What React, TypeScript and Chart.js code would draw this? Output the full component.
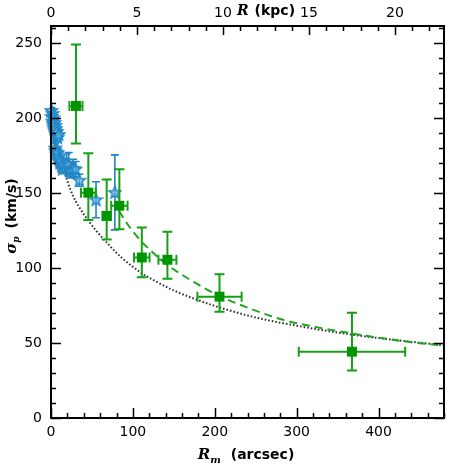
import React, { useEffect, useRef } from 'react';
import { Chart, registerables } from 'chart.js';
Chart.register(...registerables);

// Blue stars (inner data)
const starX = [0.5, 1.0, 1.5, 2.0, 2.5, 3.0, 3.5, 4.0, 4.5, 5.0, 5.5, 6.0, 6.5, 7.0, 8.0, 9.5,
  5, 6, 7, 8, 9, 10, 11, 12, 13, 14, 15, 17,
  19, 21.6, 24, 27, 30, 34.6, 55, 78];
const starY = [205, 201, 198, 203, 196, 200, 194, 197, 192, 195, 190, 193, 188, 191, 187, 189,
  180, 178, 176, 177, 174, 172, 170, 171, 168, 166, 169, 167,
  170, 169, 165, 166.5, 166, 158.5, 145.5, 150.4];
const starErr = [2, 2, 2, 3, 2, 3, 2, 3, 2, 3, 2, 3, 2, 3, 3, 3,
  3, 3, 3, 3, 3, 3, 3, 3, 3, 3, 3, 4,
  6, 8, 5, 6, 5, 4, 12, 25];

// Green squares
const sqX = [30.5, 45.6, 68, 83.5, 110.9, 142.2, 205.8, 367.6];
const sqY = [208, 150.2, 134.7, 141.5, 107, 105.5, 80.9, 44.2];
const sqYLow = [183, 132, 119, 125.8, 93.8, 92.9, 70.9, 31.6];
const sqYHigh = [249, 176.5, 159, 165.8, 127, 124.2, 95.8, 70.2];
const sqXErr = [8, 9, 5, 10, 9.5, 11, 27, 65];

// Dotted model curve
const dotX = [0, 5, 10, 15, 20, 27, 35, 45, 55, 68, 85, 111, 130, 150, 180, 207, 250, 300, 368, 420, 480];
const dotY = [202, 190, 178, 167, 158, 148, 140, 132, 125, 117, 107.5, 96.5, 90.5, 85, 78.5, 73.5, 67, 61.5, 55.5, 52, 48.5];

// Dashed model curve
const dashX = [83, 95, 109, 125, 141, 160, 178, 207, 231, 280, 320, 368, 410, 443, 480];
const dashY = [138, 128, 118.5, 110, 102.5, 95.5, 89.5, 81, 75.5, 66, 61, 56.3, 52.8, 50.3, 48.3];

// Tick labels
const xTickVals = [0, 100, 200, 300, 400];
const yTickVals = [0, 50, 100, 150, 200, 250];
const topTickVals = [0, 5, 10, 15, 20];

const GREEN = '#15a015';
const BLUE = '#1f86c6';

function drawRich(ctx: CanvasRenderingContext2D, parts: any[], cx: number, cy: number, angle: number) {
  ctx.save();
  ctx.translate(cx, cy);
  ctx.rotate(angle);
  ctx.textBaseline = 'middle';
  ctx.textAlign = 'left';
  ctx.fillStyle = '#000';
  const widths = parts.map((p) => { ctx.font = p.font; return ctx.measureText(p.text).width + (p.gap || 0); });
  const total = widths.reduce((a, b) => a + b, 0);
  let x = -total / 2;
  parts.forEach((p, i) => {
    ctx.font = p.font;
    ctx.fillText(p.text, x, p.dy || 0);
    x += widths[i];
  });
  ctx.restore();
}

const errPlugin = {
  id: 'errbars',
  beforeDatasetDraw(chart: any, args: any) {
    const ctx = chart.ctx;
    const xs = chart.scales.x, ys = chart.scales.y;
    const ca = chart.chartArea;
    ctx.save();
    ctx.beginPath();
    ctx.rect(ca.left, ca.top, ca.right - ca.left, ca.bottom - ca.top);
    ctx.clip();
    if (args.index === 0) {
      ctx.strokeStyle = GREEN;
      ctx.lineWidth = 2;
      const cap = 5;
      for (let i = 0; i < sqX.length; i++) {
        const px = xs.getPixelForValue(sqX[i]);
        const py = ys.getPixelForValue(sqY[i]);
        const yl = ys.getPixelForValue(sqYLow[i]);
        const yh = ys.getPixelForValue(sqYHigh[i]);
        const xl = xs.getPixelForValue(sqX[i] - sqXErr[i]);
        const xh = xs.getPixelForValue(sqX[i] + sqXErr[i]);
        ctx.beginPath();
        ctx.moveTo(px, yl); ctx.lineTo(px, yh);
        ctx.moveTo(px - cap, yl); ctx.lineTo(px + cap, yl);
        ctx.moveTo(px - cap, yh); ctx.lineTo(px + cap, yh);
        ctx.moveTo(xl, py); ctx.lineTo(xh, py);
        ctx.moveTo(xl, py - cap); ctx.lineTo(xl, py + cap);
        ctx.moveTo(xh, py - cap); ctx.lineTo(xh, py + cap);
        ctx.stroke();
      }
    } else if (args.index === 1) {
      ctx.strokeStyle = BLUE;
      ctx.lineWidth = 1.6;
      const cap = 4;
      for (let i = 0; i < starX.length; i++) {
        const px = xs.getPixelForValue(starX[i]);
        const yl = ys.getPixelForValue(starY[i] - starErr[i]);
        const yh = ys.getPixelForValue(starY[i] + starErr[i]);
        ctx.beginPath();
        ctx.moveTo(px, yl); ctx.lineTo(px, yh);
        ctx.moveTo(px - cap, yl); ctx.lineTo(px + cap, yl);
        ctx.moveTo(px - cap, yh); ctx.lineTo(px + cap, yh);
        ctx.stroke();
      }
    }
    ctx.restore();
  },
};

const framePlugin = {
  id: 'frame',
  afterDraw(chart: any) {
    const ctx = chart.ctx;
    const ca = chart.chartArea;
    const xs = chart.scales.x, ys = chart.scales.y, x2 = chart.scales.x2;
    ctx.save();
    ctx.strokeStyle = '#000';
    ctx.lineWidth = 1.5;
    ctx.beginPath();
    for (let v = 0; v <= 480; v += 20) {
      const p = Math.round(xs.getPixelForValue(v)) + 0.5;
      const len = v % 100 === 0 ? 10 : 5;
      ctx.moveTo(p, ca.bottom); ctx.lineTo(p, ca.bottom - len);
    }
    for (let v = 0; v <= 22; v += 1) {
      const p = Math.round(x2.getPixelForValue(v)) + 0.5;
      const len = v % 5 === 0 ? 9 : 5;
      ctx.moveTo(p, ca.top); ctx.lineTo(p, ca.top + len);
    }
    for (let v = 0; v <= 260; v += 10) {
      const p = Math.round(ys.getPixelForValue(v)) + 0.5;
      const len = v % 50 === 0 ? 10 : 5;
      ctx.moveTo(ca.left, p); ctx.lineTo(ca.left + len, p);
      ctx.moveTo(ca.right, p); ctx.lineTo(ca.right - len, p);
    }
    ctx.stroke();
    ctx.lineWidth = 2;
    ctx.strokeRect(ca.left, ca.top, ca.right - ca.left, ca.bottom - ca.top);
    ctx.restore();

    // axis titles
    drawRich(ctx, [
      { text: 'R', font: 'italic bold 15px "DejaVu Serif"' },
      { text: 'm', font: 'italic bold 10px "DejaVu Serif"', dy: 5, gap: 10 },
      { text: '(arcsec)', font: 'bold 14px "DejaVu Sans"' },
    ], 246, 455, 0);
    drawRich(ctx, [
      { text: 'R', font: 'italic bold 14px "DejaVu Serif"', gap: 6 },
      { text: '(kpc)', font: 'bold 14px "DejaVu Sans"' },
    ], 266, 11, 0);
    drawRich(ctx, [
      { text: 'σ', font: 'italic bold 15px "DejaVu Serif"' },
      { text: 'p', font: 'italic bold 9px "DejaVu Serif"', dy: 5, gap: 8 },
      { text: '(km/s)', font: 'bold 14px "DejaVu Sans"' },
    ], 12, 216, -Math.PI / 2);
  },
};

export default function App() {
  const ref = useRef<HTMLCanvasElement | null>(null);
  useEffect(() => {
    if (!ref.current) return;
    // star point image
    const sc = document.createElement('canvas');
    sc.width = 15; sc.height = 15;
    const sctx = sc.getContext('2d')!;
    sctx.beginPath();
    for (let k = 0; k < 10; k++) {
      const r = k % 2 === 0 ? 6.2 : 2.7;
      const a = -Math.PI / 2 + (k * Math.PI) / 5;
      const px = 7.5 + r * Math.cos(a), py = 7.9 + r * Math.sin(a);
      if (k === 0) sctx.moveTo(px, py); else sctx.lineTo(px, py);
    }
    sctx.closePath();
    sctx.fillStyle = 'rgba(120,180,225,0.6)';
    sctx.fill();
    sctx.strokeStyle = BLUE;
    sctx.lineWidth = 1.6;
    sctx.stroke();

    const font = { family: '"DejaVu Sans"', size: 14 };
    const chart = new Chart(ref.current, {
      type: 'scatter',
      data: {
        datasets: [
          {
            label: 'squares',
            data: sqX.map((x, i) => ({ x, y: sqY[i] })),
            pointStyle: 'rect',
            pointRadius: 7,
            backgroundColor: '#009400',
            borderColor: '#009400',
            borderWidth: 0,
            xAxisID: 'x', yAxisID: 'y',
          },
          {
            label: 'stars',
            data: starX.map((x, i) => ({ x, y: starY[i] })),
            pointStyle: sc as any,
            pointRadius: 6,
            clip: false as any,
            xAxisID: 'x', yAxisID: 'y',
          },
          {
            label: 'dashed',
            data: dashX.map((x, i) => ({ x, y: dashY[i] })),
            showLine: true,
            borderColor: '#1fa51f',
            borderWidth: 2,
            borderDash: [8, 5],
            pointRadius: 0,
            cubicInterpolationMode: 'monotone',
            xAxisID: 'x', yAxisID: 'y',
          },
          {
            label: 'dotted',
            data: dotX.map((x, i) => ({ x, y: dotY[i] })),
            showLine: true,
            borderColor: '#333',
            borderWidth: 2,
            borderDash: [1.6, 2],
            pointRadius: 0,
            cubicInterpolationMode: 'monotone',
            xAxisID: 'x', yAxisID: 'y',
          },
        ] as any,
      },
      options: {
        animation: false,
        responsive: false,
        devicePixelRatio: 1,
        layout: { padding: { left: 0, right: 25, top: 0, bottom: 0 } },
        plugins: { legend: { display: false }, tooltip: { enabled: false } },
        events: [],
        scales: {
          x: {
            type: 'linear', position: 'bottom', min: 0, max: 480,
            grid: { display: false, drawTicks: false }, border: { display: false },
            ticks: { font, color: '#000', padding: 6, maxRotation: 0, autoSkip: false },
            afterBuildTicks: (s: any) => { s.ticks = xTickVals.map((v) => ({ value: v })); },
            afterFit: (s: any) => { s.height = 51; },
          },
          x2: {
            type: 'linear', position: 'top', min: 0, max: 22.85,
            grid: { display: false, drawTicks: false }, border: { display: false },
            ticks: { font, color: '#000', padding: 4, maxRotation: 0, autoSkip: false },
            afterBuildTicks: (s: any) => { s.ticks = topTickVals.map((v) => ({ value: v })); },
            afterFit: (s: any) => { s.height = 26; },
          },
          y: {
            type: 'linear', position: 'left', min: 0, max: 261.3,
            grid: { display: false, drawTicks: false }, border: { display: false },
            ticks: { font, color: '#000', padding: 9, autoSkip: false },
            afterBuildTicks: (s: any) => { s.ticks = yTickVals.map((v) => ({ value: v })); },
            afterFit: (s: any) => { s.width = 51; },
          },
        } as any,
      },
      plugins: [errPlugin, framePlugin],
    });
    return () => chart.destroy();
  }, []);
  return (
    <div style={{ position: 'fixed', left: 0, top: 0, width: 469, height: 469, background: '#fff' }}>
      <canvas ref={ref} width={469} height={469} style={{ width: 469, height: 469 }} />
    </div>
  );
}
